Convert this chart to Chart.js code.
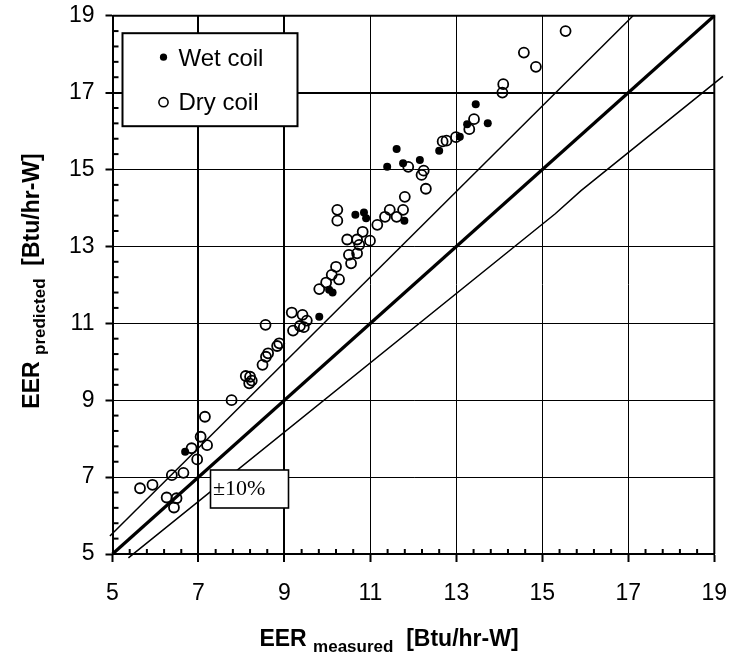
<!DOCTYPE html>
<html>
<head>
<meta charset="utf-8">
<title>EER predicted vs measured</title>
<script src="https://cdn.jsdelivr.net/npm/chart.js@4.4.1/dist/chart.umd.min.js"></script>
<style>
  html, body { margin: 0; padding: 0; background: #fff; }
  #wrap { width: 731px; height: 654px; position: relative; }
</style>
</head>
<body>
<div id="wrap"><canvas id="eer-chart"></canvas></div>
<script>
// ===== DONNÉES =====
const tickValues = [5, 7, 9, 11, 13, 15, 17, 19]
const legendLabels = ['Wet coil', 'Dry coil']
const bandLabel = '±10%'

const wetMeasured = [6.69, 9.81, 10.04, 10.12, 10.65, 10.85, 10.9, 11.39, 11.61, 11.76, 11.79, 12.15, 12.6, 13.08, 13.25, 13.45, 13.73]
const wetPredicted = [7.66, 11.17, 11.87, 11.8, 13.82, 13.88, 13.73, 15.07, 15.53, 15.16, 13.67, 15.25, 15.49, 15.85, 16.18, 16.7, 16.2]

const dryMeasured = [
  5.64, 5.93, 6.26, 6.43, 6.49, 6.38, 6.65, 6.97, 6.84, 7.2, 7.05, 7.15, 7.77,
  8.1, 8.2, 8.24, 8.18, 8.49, 8.57, 8.62, 8.83, 8.88, 8.56, 9.2, 9.36, 9.45,
  9.52, 9.17, 9.42, 9.81, 9.97, 10.27, 10.1, 10.2, 10.55, 10.5, 10.69, 10.74,
  10.46, 10.69, 10.99, 10.82, 11.16, 11.34, 11.61, 11.45, 11.76, 10.23, 10.23,
  11.8, 12.29, 12.19, 12.24, 11.88, 12.68, 12.77, 12.99, 13.3, 13.41, 14.07,
  14.09, 14.85, 14.57, 15.54,
]
const dryPredicted = [
  6.71, 6.8, 6.47, 6.21, 6.45, 7.05, 7.11, 7.46, 7.75, 7.83, 8.05, 8.57, 9.0,
  9.63, 9.61, 9.51, 9.44, 9.92, 10.13, 10.22, 10.41, 10.48, 10.96, 10.81, 10.93,
  10.9, 11.07, 11.28, 11.22, 11.89, 12.06, 12.14, 12.26, 12.47, 12.56, 12.78,
  12.82, 13.04, 13.18, 13.18, 13.15, 13.38, 13.56, 13.77, 13.77, 13.95, 13.95,
  13.67, 13.95, 14.29, 14.5, 14.86, 14.97, 15.07, 15.73, 15.75, 15.84, 16.05,
  16.31, 17.0, 17.22, 17.67, 18.04, 18.6,
]

// lignes de référence : y = x, +10 %, -10 %
const perfectX = [5, 19]
const perfectY = [5, 19]
const upperX = [4.94, 17.11]
const upperY = [5.47, 19.0]
const lowerX = [5.37, 15.3, 15.9, 19.2]
const lowerY = [4.9, 13.85, 14.45, 17.42]

const toPoints = (xs, ys) => xs.map((x, i) => ({ x: x, y: ys[i] }))

// ===== POLICES =====
const sans = "'Liberation Sans', Arial, sans-serif"
const serif = "'Liberation Serif', 'Times New Roman', serif"

// ===== PLUGIN : cadre, graduations secondaires, titres, légende =====
const decorPlugin = {
  id: 'decor',
  afterDatasetsDraw(chart) {
    const ctx = chart.ctx
    const area = chart.chartArea
    const xs = chart.scales.x
    const ys = chart.scales.y

    ctx.save()
    ctx.strokeStyle = '#000'
    ctx.fillStyle = '#000'

    // graduations secondaires (tous les 0.4)
    ctx.lineWidth = 2
    for (let k = 1; k < 35; k++) {
      if (k % 5 === 0) continue
      const v = 5 + k * 0.4
      const px = xs.getPixelForValue(v)
      ctx.beginPath()
      ctx.moveTo(px, area.bottom)
      ctx.lineTo(px, area.bottom - 5)
      ctx.stroke()
      const py = ys.getPixelForValue(v)
      ctx.beginPath()
      ctx.moveTo(area.left, py)
      ctx.lineTo(area.left + 6, py)
      ctx.stroke()
    }

    // cadre haut et droit
    ctx.lineWidth = 2
    ctx.beginPath()
    ctx.moveTo(area.left, area.top)
    ctx.lineTo(area.right, area.top)
    ctx.lineTo(area.right, area.bottom)
    ctx.stroke()

    // légende
    const lx = area.left + 10
    const ly = area.top + 17.5
    ctx.fillStyle = '#fff'
    ctx.fillRect(lx, ly, 175, 93)
    ctx.lineWidth = 2
    ctx.strokeRect(lx, ly, 175, 93)
    ctx.fillStyle = '#000'
    ctx.beginPath()
    ctx.arc(lx + 41, ly + 24, 3.6, 0, Math.PI * 2)
    ctx.fill()
    ctx.lineWidth = 1.6
    ctx.beginPath()
    ctx.arc(lx + 41, ly + 69, 4.6, 0, Math.PI * 2)
    ctx.stroke()
    ctx.font = '24px ' + sans
    ctx.textBaseline = 'alphabetic'
    ctx.textAlign = 'left'
    ctx.fillText(legendLabels[0], lx + 56, ly + 32.5)
    ctx.fillText(legendLabels[1], lx + 56, ly + 77)

    // boîte ±10%
    const bx = area.left + 98
    const by = 470
    ctx.fillStyle = '#fff'
    ctx.fillRect(bx, by, 78, 38)
    ctx.lineWidth = 1.6
    ctx.strokeRect(bx, by, 78, 38)
    ctx.fillStyle = '#000'
    ctx.font = '22px ' + serif
    ctx.fillText(bandLabel, bx + 2.5, by + 24.5)

    ctx.restore()
  },
  afterDraw(chart) {
    const ctx = chart.ctx
    ctx.save()
    ctx.fillStyle = '#000'
    drawSubTitle(ctx, 389, 646, 'measured')
    ctx.translate(39, 281)
    ctx.rotate(-Math.PI / 2)
    drawSubTitle(ctx, 0, 0, 'predicted')
    ctx.restore()
  },
}

// titre d'axe avec indice : "EER <indice> [Btu/hr-W]"
function drawSubTitle(ctx, cx, baseY, sub) {
  const parts = [
    { text: 'EER ', font: 'bold 23px ' + sans, dy: 0 },
    { text: sub, font: 'bold 17px ' + sans, dy: 5.5 },
    { text: '  [Btu/hr-W]', font: 'bold 23px ' + sans, dy: 0 },
  ]
  let total = 0
  parts.forEach((p) => {
    ctx.font = p.font
    p.w = ctx.measureText(p.text).width
    total += p.w
  })
  let x = cx - total / 2
  ctx.textAlign = 'left'
  ctx.textBaseline = 'alphabetic'
  parts.forEach((p) => {
    ctx.font = p.font
    ctx.fillText(p.text, x, baseY + p.dy)
    x += p.w
  })
}

// ===== GRAPHIQUE =====
const fixedTicks = (scale) => {
  scale.ticks = tickValues.map((v) => ({ value: v }))
}

const chart = new Chart(document.getElementById('eer-chart'), {
  type: 'scatter',
  data: {
    datasets: [
      {
        label: legendLabels[0],
        data: toPoints(wetMeasured, wetPredicted),
        pointStyle: 'circle',
        pointRadius: 4,
        backgroundColor: '#000',
        borderColor: '#000',
        borderWidth: 0,
      },
      {
        label: legendLabels[1],
        data: toPoints(dryMeasured, dryPredicted),
        pointStyle: 'circle',
        pointRadius: 5,
        backgroundColor: 'rgba(0,0,0,0)',
        borderColor: '#000',
        borderWidth: 1.8,
      },
      {
        label: 'y = x',
        data: toPoints(perfectX, perfectY),
        showLine: true,
        pointRadius: 0,
        borderColor: '#000',
        borderWidth: 3.2,
        clip: 12,
      },
      {
        label: '+10%',
        data: toPoints(upperX, upperY),
        showLine: true,
        pointRadius: 0,
        borderColor: '#000',
        borderWidth: 1.5,
        clip: 12,
      },
      {
        label: '-10%',
        data: toPoints(lowerX, lowerY),
        showLine: true,
        pointRadius: 0,
        borderColor: '#000',
        borderWidth: 1.5,
        clip: 12,
      },
    ],
  },
  options: {
    responsive: true,
    maintainAspectRatio: false,
    animation: false,
    layout: {
      padding: { top: 15.7, right: 16.7, left: 0, bottom: 0 },
    },
    plugins: {
      legend: { display: false },
      tooltip: { enabled: false },
    },
    scales: {
      x: {
        type: 'linear',
        min: 5,
        max: 19,
        afterBuildTicks: fixedTicks,
        afterFit: (scale) => {
          scale.height = 100
          scale.paddingLeft = 0
          scale.paddingRight = 0
        },
        border: { display: true, color: '#000', width: 2 },
        grid: {
          color: '#000',
          lineWidth: (c) => (c.tick && (c.tick.value === 7 || c.tick.value === 9) ? 2 : 1),
          tickLength: 8,
          tickWidth: 2,
          tickColor: '#000',
        },
        ticks: {
          color: '#000',
          padding: 18,
          maxRotation: 0,
          font: { family: sans, size: 23 },
        },
      },
      y: {
        type: 'linear',
        min: 5,
        max: 19,
        afterBuildTicks: fixedTicks,
        afterFit: (scale) => {
          scale.width = 112.5
          scale.paddingTop = 0
          scale.paddingBottom = 0
        },
        border: { display: true, color: '#000', width: 2 },
        grid: {
          color: '#000',
          lineWidth: (c) => (c.tick && c.tick.value === 17 ? 2 : 1),
          tickLength: 7,
          tickWidth: 2,
          tickColor: '#000',
        },
        ticks: {
          color: '#000',
          padding: 11,
          font: { family: sans, size: 23 },
        },
      },
    },
  },
  plugins: [decorPlugin],
})
</script>
</body>
</html>
